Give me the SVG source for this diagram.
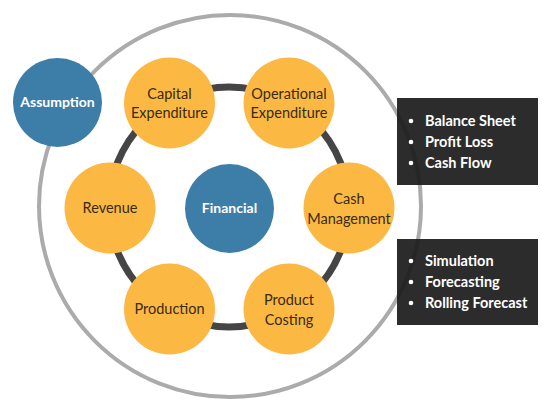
<svg xmlns="http://www.w3.org/2000/svg" width="552" height="412" viewBox="0 0 552 412">
<style>
.y{fill:#FBB944}
.b{fill:#3D7EA8}
.t{font-family:Lato,"Open Sans",sans-serif;font-size:14.5px;fill:#3a2a10;text-anchor:middle}
.w{font-family:Lato,"Open Sans",sans-serif;font-size:14px;font-weight:bold;fill:#ffffff;text-anchor:middle}
.l{font-family:Lato,"Open Sans",sans-serif;font-size:14.5px;font-weight:bold;fill:#ffffff}
.box{fill:#1c1c1c;opacity:0.93}
</style>
<rect width="552" height="412" fill="#ffffff"/>
<g id="connectors">
<circle cx="230" cy="206" r="191" fill="none" stroke="#ABABAB" stroke-width="4"/>
<circle cx="229" cy="207" r="120" fill="none" stroke="#454545" stroke-width="7"/>
</g>
<g id="assumption"><circle class="b" cx="57.5" cy="102.5" r="44.5"/><text class="w" x="57.5" y="107">Assumption</text></g>
<g id="financial"><circle class="b" cx="229.5" cy="208.5" r="44.5"/><text class="w" x="229.5" y="213">Financial</text></g>
<g id="capital"><circle class="y" cx="169.5" cy="103" r="45.5"/><text class="t" x="169.5" y="99">Capital</text><text class="t" x="169.5" y="118">Expenditure</text></g>
<g id="operational"><circle class="y" cx="289" cy="103" r="45.5"/><text class="t" x="289" y="99">Operational</text><text class="t" x="289" y="118">Expenditure</text></g>
<g id="cash"><circle class="y" cx="349" cy="208" r="45.5"/><text class="t" x="349" y="204">Cash</text><text class="t" x="349" y="224">Management</text></g>
<g id="revenue"><circle class="y" cx="110" cy="208" r="45.5"/><text class="t" x="110" y="213">Revenue</text></g>
<g id="production"><circle class="y" cx="169.5" cy="309" r="45.5"/><text class="t" x="169.5" y="314">Production</text></g>
<g id="costing"><circle class="y" cx="289" cy="309" r="45.5"/><text class="t" x="289" y="305">Product</text><text class="t" x="289" y="325">Costing</text></g>
<g id="box1"><rect class="box" x="397" y="98" width="141" height="87"/>
<circle cx="411" cy="121" r="2.3" fill="#fff"/><circle cx="411" cy="142" r="2.3" fill="#fff"/><circle cx="411" cy="163" r="2.3" fill="#fff"/>
<text class="l" x="425" y="126">Balance Sheet</text><text class="l" x="425" y="147">Profit Loss</text><text class="l" x="425" y="168">Cash Flow</text></g>
<g id="box2"><rect class="box" x="397" y="239" width="141" height="86"/>
<circle cx="411" cy="261" r="2.3" fill="#fff"/><circle cx="411" cy="282" r="2.3" fill="#fff"/><circle cx="411" cy="303" r="2.3" fill="#fff"/>
<text class="l" x="425" y="266">Simulation</text><text class="l" x="425" y="287">Forecasting</text><text class="l" x="425" y="308">Rolling Forecast</text></g>
</svg>
